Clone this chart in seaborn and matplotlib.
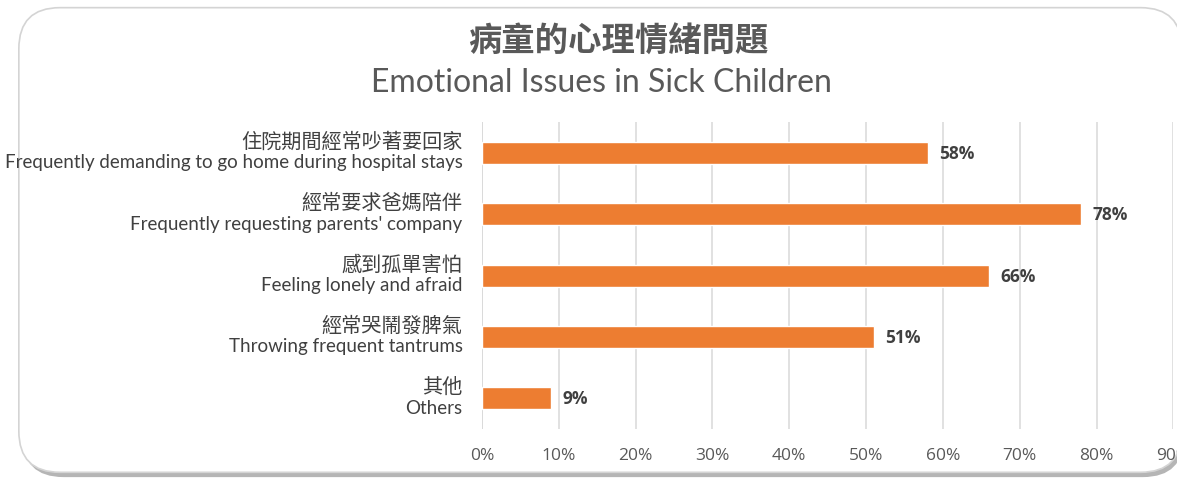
import numpy as np
import pandas as pd
import matplotlib
matplotlib.use("Agg")
import matplotlib.pyplot as plt
from matplotlib.patches import FancyBboxPatch
from matplotlib.ticker import FuncFormatter
import seaborn as sns

# data
labels_zh = ["住院期間經常吵著要回家", "經常要求爸媽陪伴", "感到孤單害怕", "經常哭鬧發脾氣", "其他"]
labels_en = ["Frequently demanding to go home during hospital stays",
             "Frequently requesting parents' company",
             "Feeling lonely and afraid",
             "Throwing frequent tantrums",
             "Others"]
values = [58, 78, 66, 51, 9]
x_ticks = [0, 10, 20, 30, 40, 50, 60, 70, 80, 90]

title_zh = "病童的心理情緒問題"
title_en = "Emotional Issues in Sick Children"

sns.set_style("white")
plt.rcParams["font.family"] = ["Lato", "Noto Sans CJK TC", "DejaVu Sans"]

df = pd.DataFrame({"label": labels_en, "value": values})

fig = plt.figure(figsize=(11.77, 4.81), dpi=100)

# rounded card with a soft shadow
shadow = FancyBboxPatch((0.019, 0.006), 0.987, 0.97, boxstyle="round,pad=0,rounding_size=0.035",
                        transform=fig.transFigure, facecolor="#b5b5b5", edgecolor="none",
                        mutation_aspect=2.45, zorder=0)
card = FancyBboxPatch((0.016, 0.016), 0.988, 0.966, boxstyle="round,pad=0,rounding_size=0.035",
                      transform=fig.transFigure, facecolor="white", edgecolor="#d4d4d4",
                      linewidth=1.2, mutation_aspect=2.45, zorder=0)
fig.patches.extend([shadow, card])

ax = fig.add_axes([0.4095, 0.106, 0.5875, 0.638])
ax.set_zorder(5)
ax.set_facecolor("none")

sns.barplot(data=df, y="label", x="value", orient="h", color="#ED7D31",
            width=0.36, saturation=1, ax=ax, zorder=3)

ax.set_xlim(0, 90)
ax.set_xticks(x_ticks)
ax.xaxis.set_major_formatter(FuncFormatter(lambda v, p: f"{v:.0f}%"))
ax.grid(axis="x", color="#d9d9d9", linewidth=1.1, zorder=0)
ax.grid(axis="y", visible=False)
for s in ax.spines.values():
    s.set_visible(False)
ax.axvline(0, color="#d9d9d9", linewidth=1.1, zorder=1)

ax.set_xlabel("")
ax.set_ylabel("")
ax.tick_params(axis="x", length=0, pad=13, labelsize=12.5, labelcolor="#595959")
ax.tick_params(axis="y", length=0)
ax.set_yticklabels([])
for t in ax.get_xticklabels():
    t.set_family(["Open Sans", "DejaVu Sans"])

# two-line category labels: Chinese above, English below
trans = ax.get_yaxis_transform()
for i, (zh, en) in enumerate(zip(labels_zh, labels_en)):
    ax.annotate(zh, xy=(0, i), xycoords=trans, xytext=(-14, 8.5), textcoords="offset points",
                ha="right", va="center", fontsize=14.5, color="#404040",
                family=["Noto Sans CJK TC", "DejaVu Sans"], annotation_clip=False)
    ax.annotate(en, xy=(0, i), xycoords=trans, xytext=(-14, -6.5), textcoords="offset points",
                ha="right", va="center", fontsize=13.5, color="#404040", annotation_clip=False)

for c in ax.containers:
    ax.bar_label(c, labels=[f"{v}%" for v in values], padding=8, fontsize=12.5,
                 color="#404040", fontweight="bold", family=["Open Sans", "DejaVu Sans"])

fig.text(0.525, 0.912, title_zh, ha="center", va="center", fontsize=24, fontweight="bold",
         color="#595959", family=["Noto Sans CJK TC", "DejaVu Sans"])
fig.text(0.511, 0.828, title_en, ha="center", va="center", fontsize=23, color="#595959")

fig.savefig("out.png", dpi=100)
